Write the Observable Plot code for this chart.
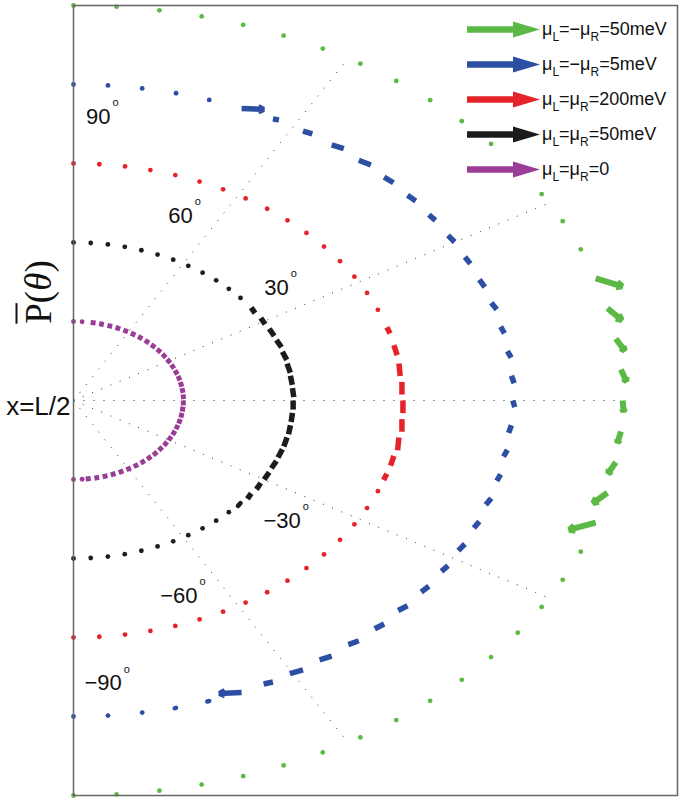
<!DOCTYPE html>
<html><head><meta charset="utf-8">
<script src="https://cdn.jsdelivr.net/npm/d3@7"></script>
<script src="https://cdn.jsdelivr.net/npm/@observablehq/plot@0.6"></script>
<style>
body{margin:0;background:#fff;font-family:"Liberation Sans",Arial,sans-serif;}
#wrap{position:relative;width:685px;height:798px;}
.row{position:absolute;left:466px;white-space:nowrap;height:24px;display:flex;align-items:center;font-size:18px;color:#111;}
.row svg{margin-right:1px;}
.row sub{font-size:12px;vertical-align:-6px;line-height:0;}
#ylabel{position:absolute;left:38px;top:292px;transform:translate(-50%,-50%) rotate(-90deg);font-family:"Liberation Serif","DejaVu Serif",serif;font-size:37px;white-space:nowrap;color:#111;}
#ylabel .bar{text-decoration:overline;text-decoration-thickness:2px;}
</style></head>
<body>
<div id="wrap"></div>
<script>
// angles of the sample points (degrees), top to bottom
const angles = [90,85.5,81,76.5,72,67.5,63,58.5,54,49.5,45,40.5,36,31.5,27,22.5,18,13.5,9,4.5,0,
  -4.5,-9,-13.5,-18,-22.5,-27,-31.5,-36,-40.5,-45,-49.5,-54,-58.5,-63,-67.5,-72,-76.5,-81,-85.5,-90];

const seriesNames = ["μL=−μR=50meV","μL=−μR=5meV","μL=μR=200meV","μL=μR=50meV","μL=μR=0"];
const seriesRadius = [5,4,3,2,1];
const seriesColors = ["#5cb946","#2c4ea3","#e5232a","#1c1c1c","#9b3d97"];
const seriesWidth = [6,5.5,5.5,5.5,5];

const z16 = [0,0,0,0,0,0,0,0,0,0,0,0,0,0,0,0];
// vector components (data units) for each sample point
const greenU = [...z16, .24,.13,.08,.05,.01,-.03,-.07,-.13,-.24, ...z16];
const greenV = [...z16, -.10,-.15,-.15,-.15,-.14,-.14,-.14,-.13,-.09, ...z16];

const blueU = [0,0,0,0,0, .20,.055,.085,.11,.11,.085,.075,.06,.06,.05,.05,.05,.035,.035,.025,.018,
  -.025,-.035,-.035,-.05,-.05,-.06,-.06,-.07,-.085,-.085,-.095,-.11,-.12,-.085,-.20,-.018,-.012,0,0,0];
const blueV = [0,0,0,0,0, -.01,-.012,-.036,-.048,-.06,-.072,-.072,-.072,-.084,-.084,-.096,-.084,-.084,-.084,-.096,-.084,
  -.096,-.084,-.084,-.084,-.084,-.084,-.072,-.072,-.06,-.06,-.048,-.048,-.048,-.024,-.012,-.006,-.006,0,0,0];

const redU = [...z16, .03,.03,.012,0,0,0,-.012,-.03,-.03, ...z16];
const redV = [...z16, -.08,-.125,-.16,-.16,-.16,-.16,-.16,-.125,-.08, ...z16];

const blackU = [0,0,0,0,0,0,0,0,0,0,0,0, .035,.04,.046,.046,.04,.03,.017,.012,0,
  -.012,-.017,-.03,-.04,-.046,-.046,-.04,-.035,-.023, 0,0,0,0,0,0,0,0,0,0,0];
const blackV = [0,0,0,0,0,0,0,0,0,0,0,0, -.07,-.08,-.092,-.092,-.104,-.115,-.115,-.115,-.115,
  -.115,-.115,-.115,-.104,-.092,-.092,-.08,-.07,-.035, 0,0,0,0,0,0,0,0,0,0,0];

const purpleU = [0,0, .045,.043,.043,.043,.042,.041,.039,.038,.036,.034,.032,.029,.025,.022,.018,.014,.010,.006,0,
  -.006,-.010,-.014,-.018,-.022,-.025,-.029,-.032,-.034,-.036,-.038,-.039,-.041,-.042,-.043,-.043,-.043,-.045, 0,0];
const purpleV = [0,0, -.007,-.011,-.014,-.018,-.021,-.025,-.028,-.032,-.036,-.041,-.043,-.048,-.050,-.053,-.056,-.059,-.060,-.062,-.062,
  -.062,-.060,-.059,-.056,-.053,-.050,-.048,-.043,-.041,-.036,-.032,-.028,-.025,-.021,-.018,-.014,-.011,-.007, 0,0];

const seriesU = [greenU, blueU, redU, blackU, purpleU];
const seriesV = [greenV, blueV, redV, blackV, purpleV];

// dotted guide rays
const gridAngles = [60,30,0,-30,-60];
const gridRadius = 5;

// angle annotations
const angleLabels = ["90","60","30","−30","−60","−90"];
const angleLabelX = [0.337,1.085,1.96,2.07,1.13,0.44];
const angleLabelY = [3.595,2.342,1.43,-1.52,-2.47,-3.58];

// build tables
const rad = d => d * Math.PI / 180;
const pts = [];
seriesNames.forEach((name, s) => {
  angles.forEach((a, k) => {
    const r = seriesRadius[s];
    const x = r * Math.cos(rad(a)), y = r * Math.sin(rad(a));
    const u = seriesU[s][k], v = seriesV[s][k];
    const len = Math.hypot(u * 110, v * 79);
    const kind = (u === 0 && v === 0) ? "dot" : (s === 0 || len > 14) ? "arrow" : len < 4 ? "tiny" : "dash";
    pts.push({s, name, color: seriesColors[s], x, y, x2: x + u, y2: y + v, kind});
  });
});
const dots = pts.filter(d => d.kind === "dot");
const rays = gridAngles.map(a => ({x2: gridRadius * Math.cos(rad(a)), y2: gridRadius * Math.sin(rad(a))}));
const labels = angleLabels.map((t, i) => ({t, x: angleLabelX[i], y: angleLabelY[i]}));

const vecMarks = seriesNames.flatMap((n, s) => [
  Plot.link(pts.filter(d => d.kind === "dash" && d.s === s), {x1: "x", y1: "y", x2: "x2", y2: "y2", stroke: "color",
    strokeWidth: seriesWidth[s], strokeLinecap: "butt"}),
  Plot.link(pts.filter(d => d.kind === "tiny" && d.s === s), {x1: "x", y1: "y", x2: "x2", y2: "y2", stroke: "color",
    strokeWidth: seriesWidth[s] - 1, strokeLinecap: "round"}),
  Plot.arrow(pts.filter(d => d.kind === "arrow" && d.s === s), {x1: "x", y1: "y", x2: "x2", y2: "y2", stroke: "color",
    strokeWidth: seriesWidth[s], headLength: 1.6, headAngle: 50, strokeLinecap: "butt", strokeLinejoin: "miter"})
]);

const chart = Plot.plot({
  width: 685, height: 798,
  marginLeft: 73, marginRight: 8, marginTop: 5, marginBottom: 3,
  x: {domain: [0, 5.5], axis: null},
  y: {domain: [-5, 5], axis: null},
  style: {fontFamily: "'Liberation Sans', Arial, sans-serif", background: "white", overflow: "visible"},
  marks: [
    Plot.link(rays, {x1: () => 0, y1: () => 0, x2: "x2", y2: "y2", stroke: "#333", strokeWidth: 1, strokeDasharray: "1,9"}),
    Plot.dot(dots, {x: "x", y: "y", r: 2.4, fill: "color", stroke: null}),
    ...vecMarks,
    Plot.text(labels, {x: "x", y: "y", text: "t", textAnchor: "end", fontSize: 22, fill: "#111"}),
    Plot.text(labels, {x: "x", y: "y", text: () => "o", textAnchor: "start", dx: 2, dy: -14, fontSize: 11, fill: "#111"}),
    Plot.text(["x=L/2"], {x: () => 0, y: () => 0, text: d => d, textAnchor: "end", dx: -3, dy: 6, fontSize: 26, fill: "#111"}),
    Plot.frame({stroke: "#666", strokeWidth: 1.5})
  ]
});
const wrap = document.getElementById("wrap");
wrap.appendChild(chart);

// legend (inside the frame, top right)
seriesNames.forEach((name, i) => {
  const row = document.createElement("div");
  row.className = "row";
  row.style.top = (17 + i * 35) + "px";
  const c = seriesColors[i];
  const m = name.match(/^μL=(−?)μR=(.*)$/);
  row.innerHTML = `<svg width="75" height="17" viewBox="0 0 75 17"><line x1="1" y1="8.5" x2="52" y2="8.5" stroke="${c}" stroke-width="6.5"/><polygon points="47,0.5 74,8.5 47,16.5" fill="${c}"/></svg>` +
    `<span>μ<sub>L</sub>=${m[1]}μ<sub>R</sub>=${m[2]}</span>`;
  wrap.appendChild(row);
});
const yl = document.createElement("div");
yl.id = "ylabel";
yl.innerHTML = `<span class="bar">P</span>(<i>θ</i>)`;
wrap.appendChild(yl);
</script>
</body></html>
